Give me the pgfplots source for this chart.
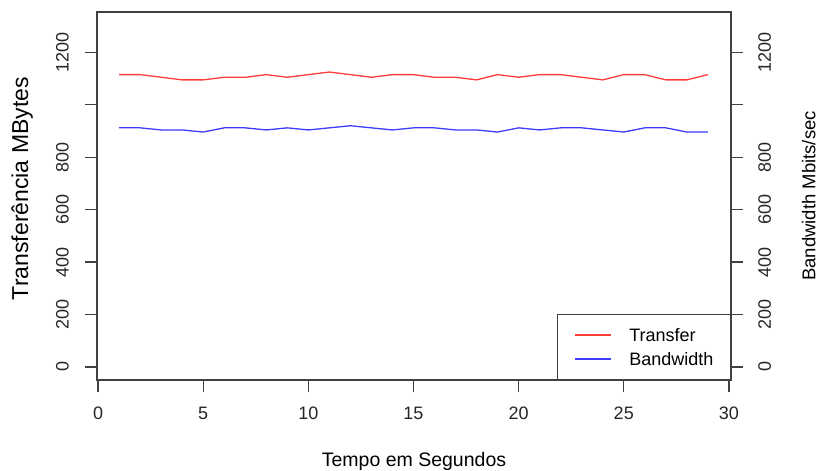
\documentclass[border=0pt]{standalone}
\usepackage{fontspec}
\setmainfont{Liberation Sans}
\usepackage{pgfplots}
\usepackage{pgfplotstable}
\pgfplotsset{compat=1.18}
\definecolor{lred}{RGB}{255,60,60}
\definecolor{lblue}{RGB}{60,60,255}
\pgfplotstableread{
x transfer bandwidth
1 1115 912
2 1115 912
3 1105 904
4 1095 904
5 1095 896
6 1105 912
7 1105 912
8 1115 904
9 1105 912
10 1115 904
11 1125 912
12 1115 920
13 1105 912
14 1115 904
15 1115 912
16 1105 912
17 1105 904
18 1095 904
19 1115 896
20 1105 912
21 1115 904
22 1115 912
23 1105 912
24 1095 904
25 1115 896
26 1115 912
27 1095 912
28 1095 896
29 1115 896
}\datatable
\begin{document}
\begin{tikzpicture}[x=1pt,y=1pt]
\useasboundingbox (0,0) rectangle (820,471);
\pgfplotsset{
  common/.style={
    at={(97pt,91pt)}, anchor=south west, scale only axis,
    width=634pt, height=368pt,
    xmin=-0.05, xmax=30.1, ymin=-50, ymax=1354,
    axis line style={draw=black!75, line width=1.3pt},
    tick style={draw=black!75, line width=1.3pt},
    major tick length=12pt,
    tick align=outside,
    /pgf/number format/assume math mode=true,
    ticklabel style={font=\fontsize{18}{20}\selectfont, text=black!85, inner sep=0pt},
    ytick={0,200,...,1200},
    yticklabels={0,200,400,600,800,,1200},
    xtick={0,5,...,30},
  }
}
\begin{axis}[common,
  xtick pos=bottom, ytick pos=left,
  yticklabel style={rotate=90, anchor=south},
  yticklabel shift=16pt,
  xticklabel style={anchor=north},
  xticklabel shift=15pt,
  xlabel={Tempo em Segundos},
  every axis x label/.style={at={(rel axis cs:0.5,0)}, anchor=base, yshift=-87pt,
    font=\fontsize{19.5}{22}\selectfont},
  ylabel={Transferência MBytes},
  every axis y label/.style={at={(rel axis cs:-0.1088,0.52)}, rotate=90, anchor=base,
    font=\fontsize{23}{26}\selectfont},
  legend cell align=left,
  legend style={at={(rel axis cs:1,0)}, anchor=south east, draw=black!75,
    line width=1.3pt, fill=white, font=\fontsize{18}{20}\selectfont,
    inner xsep=17pt, inner ysep=14pt, row sep=11pt,
    nodes={inner sep=0pt, text height=13pt, text depth=0pt},
    /tikz/every odd column/.append style={column sep=17pt}},
  legend image code/.code={\draw[#1] (0pt,0pt) -- (36pt,0pt);},
]
\addplot[lred, line width=1.3pt, forget plot] table[x=x, y=transfer] {\datatable};
\addplot[lblue, line width=1.3pt, forget plot] table[x=x, y=bandwidth] {\datatable};
\addlegendimage{draw=lred, line width=1.6pt}
\addlegendentry{Transfer}
\addlegendimage{draw=lblue, line width=1.6pt}
\addlegendentry{Bandwidth}
\end{axis}
\begin{axis}[common,
  axis x line=none, axis y line*=right,
  yticklabel style={rotate=90, anchor=north},
  yticklabel shift=15pt,
  ylabel={Bandwidth Mbits/sec},
  every axis y label/.style={at={(rel axis cs:1.133,0.5)}, rotate=90, anchor=base,
    font=\fontsize{18.5}{21}\selectfont},
]
\end{axis}
\end{tikzpicture}
\end{document}
